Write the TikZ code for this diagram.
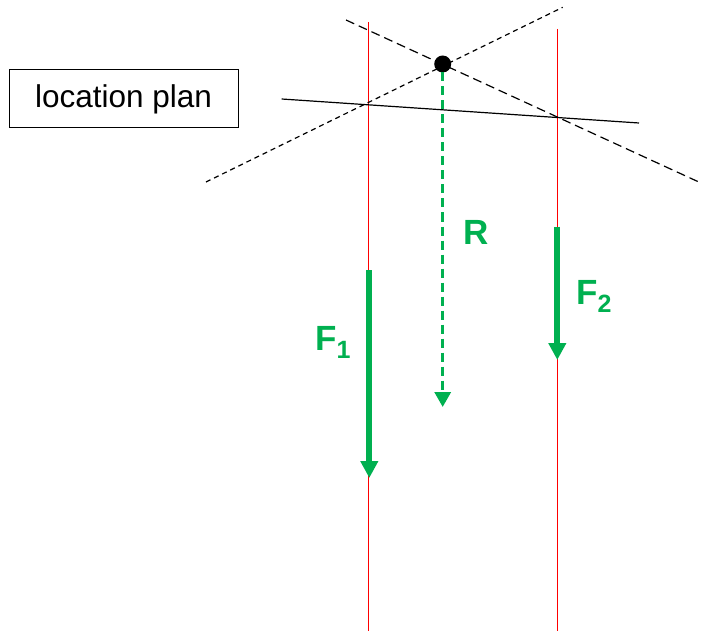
\documentclass[tikz,border=0pt]{standalone}
\usepackage{fontspec}
\setmainfont{Liberation Sans}
\usetikzlibrary{arrows.meta, positioning}
\definecolor{forcegreen}{RGB}{0,176,80}
\tikzset{%
   % line of action of a force, thin red
   action/.style={
      draw=red,
      line width=1pt
   },
   % construction lines through the intersection point
   aux/.style={
      draw=black,
      line width=1.2pt,
      dash pattern=on 5pt off 4pt
   },
   auxlong/.style={
      draw=black,
      line width=1.2pt,
      dash pattern=on 9pt off 5pt
   },
   force/.style={
      draw=forcegreen,
      line width=6pt,
      -{Triangle[width=17pt, length=17pt]}
   },
   resultant/.style={
      draw=forcegreen,
      line width=3.3pt,
      dash pattern=on 9pt off 5pt,
      -{Triangle[width=16pt, length=15pt]}
   },
   dot/.style={
      circle,
      inner sep=0pt,
      outer sep=0pt,
      minimum size=17pt,
      fill=black
   },
   plan/.style={
      draw,
      line width=1pt,
      minimum width=229pt,
      minimum height=58pt,
      inner sep=0pt,
      font=\fontsize{31.5}{36}\selectfont
   },
   forcelabel/.style={
      anchor=base west,
      inner sep=0pt,
      text=forcegreen,
      font=\fontsize{35}{40}\selectfont\bfseries
   },
}
\newcommand{\forcesub}[1]{\raisebox{-8pt}{\fontsize{25}{28}\selectfont #1}}

\begin{document}
\begin{tikzpicture}[x=1pt, y=-1pt]
  \useasboundingbox (0,0) rectangle (701,631);
  \node[plan] (box) at (123.5,99) {location plan};
  % lines of action
  \coordinate (a1top) at (368,22);
  \coordinate (a1bot) at (368,631);
  \coordinate (a2top) at (557.5,29);
  \coordinate (a2bot) at (557.5,631);
  \draw[action] (a1top) -- (a1bot);
  \draw[action] (a2top) -- (a2bot);
  % construction
  \node[dot] (S) at (442.7,64) {};
  \coordinate (c1a) at (206,182);
  \coordinate (c1b) at (562.7,7.3);
  \coordinate (c2a) at (346,20);
  \coordinate (c2b) at (701,183);
  \coordinate (sa) at (281.7,99);
  \coordinate (sb) at (639,123);
  \draw[aux] (c1a) -- (c1b);
  \draw[auxlong] (c2a) -- (c2b);
  \draw[line width=1.2pt] (sa) -- (sb);
  % forces
  \coordinate (f1a) at (369.3,270);
  \coordinate (f1b) at (369.3,478);
  \coordinate (f2a) at (557.3,226.7);
  \coordinate (f2b) at (557.3,360);
  \coordinate (rb) at (442.7,407);
  \draw[force] (f1a) -- (f1b);
  \draw[force] (f2a) -- (f2b);
  \draw[resultant] (S.south) -- (rb);
  \node[forcelabel] (F1) at (315,350) {F\forcesub{1}};
  \node[forcelabel] (F2) at (576,304) {F\forcesub{2}};
  \node[forcelabel] (R) at (463,244) {R};
\end{tikzpicture}
\end{document}
